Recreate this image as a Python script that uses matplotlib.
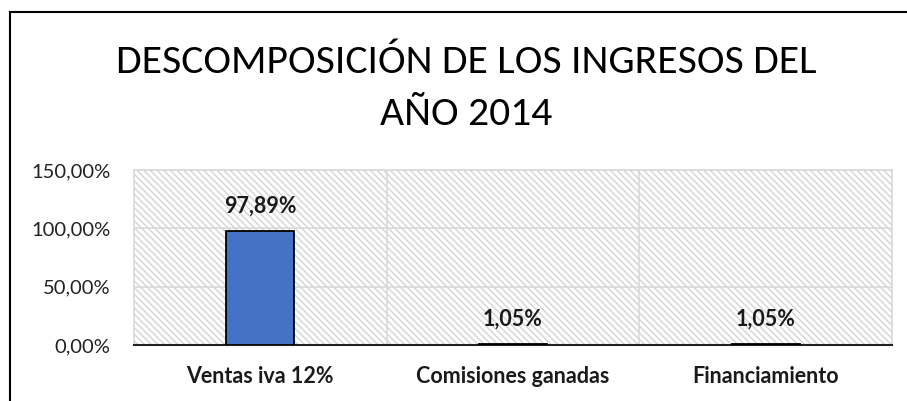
import matplotlib
matplotlib.use('Agg')
import matplotlib.pyplot as plt
from matplotlib.lines import Line2D
from matplotlib import font_manager

categories = ["Ventas iva 12%", "Comisiones ganadas", "Financiamiento"]
values = [97.89, 1.05, 1.05]
value_labels = ["97,89%", "1,05%", "1,05%"]
yticks = [0, 50, 100, 150]
ytick_labels = ["0,00%", "50,00%", "100,00%", "150,00%"]
title_lines = ["DESCOMPOSICIÓN DE LOS INGRESOS DEL", "AÑO 2014"]

# Calibri-like narrow face if we have one, Lato otherwise
available = {f.name for f in font_manager.fontManager.ttflist}
title_font = 'Lato'
for name in ['Carlito', 'Liberation Sans Narrow', 'Open Sans Condensed']:
    if name in available:
        title_font = name
        break

plt.rcParams['font.family'] = ['Lato', 'DejaVu Sans']
plt.rcParams['hatch.color'] = '#d4d4d4'
plt.rcParams['hatch.linewidth'] = 1.0

fig = plt.figure(figsize=(9.07, 4.01), dpi=100)
ax = fig.add_axes([134 / 907, 1 - 345 / 401, (892 - 134) / 907, (345 - 170) / 401])

x = range(len(categories))
ax.bar(x, values, width=0.27, color='#4472C4', edgecolor='black', linewidth=1.3, zorder=3)

for i, (v, lab) in enumerate(zip(values, value_labels)):
    ax.annotate(lab, (i, v), xytext=(0, 10), textcoords='offset points',
                ha='center', va='bottom', fontsize=15.5, fontweight='bold', color='#1a1a1a')

ax.set_xlim(-0.5, 2.5)
ax.set_ylim(0, 150)
ax.set_yticks(yticks)
ax.set_yticklabels(ytick_labels, fontsize=14.5, color='#222222')
ax.set_xticks(list(x))
ax.set_xticklabels(categories, fontsize=15.5, fontweight='bold', color='#1a1a1a')
ax.tick_params(axis='both', length=0)
ax.tick_params(axis='y', pad=17)
ax.tick_params(axis='x', pad=15)

# category separators and horizontal gridlines
ax.set_xticks([0.5, 1.5], minor=True)
ax.grid(axis='x', which='minor', color='#d9d9d9', linewidth=1.2, zorder=1)
ax.grid(axis='y', which='major', color='#d9d9d9', linewidth=1.2, zorder=1)
ax.tick_params(axis='x', which='minor', length=0)

ax.patch.set_facecolor('white')
ax.patch.set_hatch('\\' * 5)
ax.patch.set_edgecolor('#d4d4d4')

for s in ['top', 'left', 'right']:
    ax.spines[s].set_color('#d9d9d9')
    ax.spines[s].set_linewidth(1.2)
ax.spines['bottom'].set_color('#222222')
ax.spines['bottom'].set_linewidth(1.5)

# title, two lines as in the original
fig.text(466 / 907, 1 - 73 / 401, title_lines[0], ha='center', va='baseline', fontsize=30,
         family=[title_font, 'DejaVu Sans'], color='black')
fig.text(466 / 907, 1 - 125 / 401, title_lines[1], ha='center', va='baseline', fontsize=30,
         family=[title_font, 'DejaVu Sans'], color='black')

# outer chart frame
fig.add_artist(Line2D([10 / 907, 10 / 907], [0, 1 - 12 / 401], transform=fig.transFigure,
                      color='black', linewidth=1.5))
fig.add_artist(Line2D([10 / 907, 1], [1 - 12 / 401, 1 - 12 / 401], transform=fig.transFigure,
                      color='black', linewidth=1.5))

fig.savefig('out.png', dpi=100)
